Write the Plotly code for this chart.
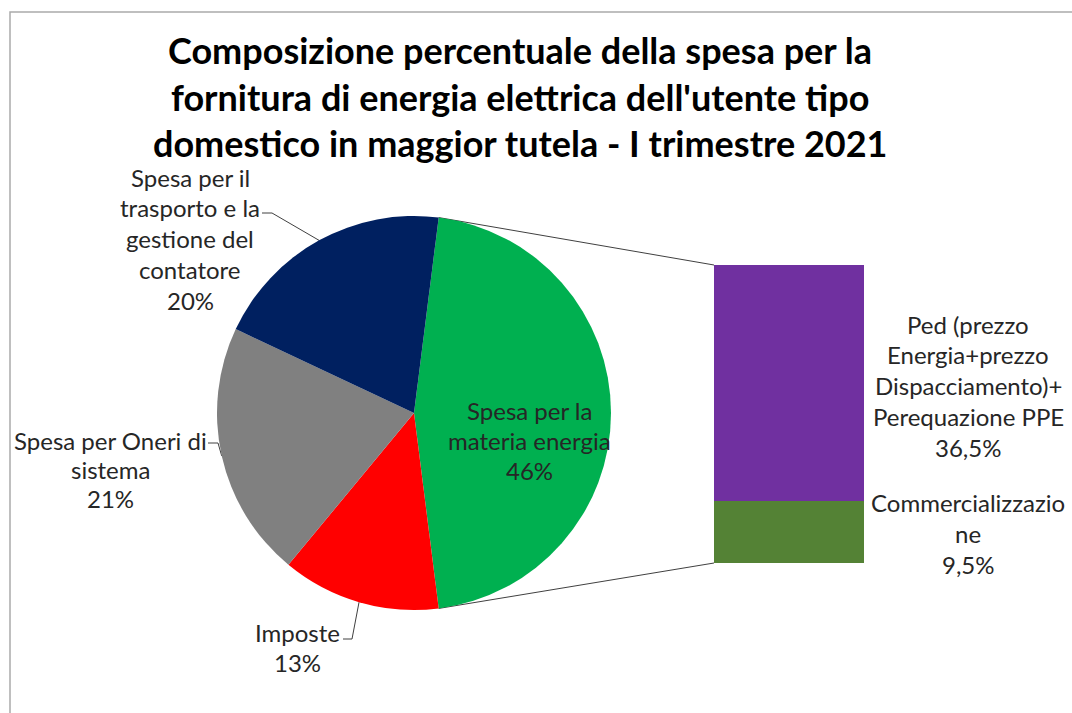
import math
import plotly.graph_objects as go

W, H = 1072, 713

# ---------------- data ----------------
title_lines = [
    "Composizione percentuale della spesa per la",
    "fornitura di energia elettrica dell'utente tipo",
    "domestico in maggior tutela - I trimestre 2021",
]

pie_labels = [
    "Spesa per la materia energia",
    "Imposte",
    "Spesa per Oneri di sistema",
    "Spesa per il trasporto e la gestione del contatore",
]
pie_values = [46, 13, 21, 20]
pie_colors = ["#00B050", "#FF0000", "#808080", "#002060"]
pie_label_lines = [
    ["Spesa per la", "materia energia", "46%"],
    ["Imposte", "13%"],
    ["Spesa per Oneri di", "sistema", "21%"],
    ["Spesa per il", "trasporto e la", "gestione del", "contatore", "20%"],
]

bar_labels = [
    "Commercializzazione",
    "Ped (prezzo Energia+prezzo Dispacciamento)+ Perequazione PPE",
]
bar_values = [9.5, 36.5]
bar_colors = ["#548235", "#7030A0"]
bar_label_lines = [
    ["Commercializzazio", "ne", "9,5%"],
    ["Ped (prezzo", "Energia+prezzo", "Dispacciamento)+", "Perequazione PPE", "36,5%"],
]

# ---------------- layout geometry (pixels) ----------------
CX, CY, R = 414, 413, 197
BAR_L, BAR_R, BAR_T, BAR_B = 714, 864, 265, 563
FONT = "Lato"
TXT = "#262626"

total = sum(pie_values)
rotation = 90 - pie_values[0] / total * 360 / 2  # split slice centred on 3 o'clock


def slice_bounds(i):
    start = rotation + sum(pie_values[:i]) / total * 360
    end = start + pie_values[i] / total * 360
    return start, end


def on_circle(angle_deg):
    a = math.radians(angle_deg)
    return CX + R * math.sin(a), CY - R * math.cos(a)


fig = go.Figure()

# pie
fig.add_trace(go.Pie(
    labels=pie_labels, values=pie_values, sort=False, direction="clockwise",
    rotation=rotation, marker=dict(colors=pie_colors, line=dict(width=0)),
    textinfo="none", hoverinfo="label+percent", showlegend=False,
    domain=dict(x=[(CX - R) / W, (CX + R) / W], y=[(H - CY - R) / H, (H - CY + R) / H]),
))

# stacked bar (second plot of the split slice)
for lab, val, col in zip(bar_labels, bar_values, bar_colors):
    fig.add_trace(go.Bar(
        x=[0], y=[val], width=[1], name=lab, marker=dict(color=col, line=dict(width=0)),
        showlegend=False, hoverinfo="name+y", xaxis="x", yaxis="y",
    ))

# connector lines between pie and bar
g0, g1 = slice_bounds(0)
p_top = on_circle(g0)
p_bot = on_circle(g1)
fig.add_trace(go.Scatter(
    x=[p_top[0], BAR_L, None, p_bot[0], BAR_L],
    y=[p_top[1], BAR_T, None, p_bot[1], BAR_B],
    mode="lines", line=dict(color="#404040", width=1), hoverinfo="skip",
    showlegend=False, xaxis="x2", yaxis="y2",
))

# leader lines: label elbow points (layout), end at slice mid-angle on the rim
elbows = {1: [(343, 639), (352, 639)], 2: [(208, 443), (218, 443)], 3: [(262, 213), (272, 213)]}
lx, ly = [], []
for i, pts in elbows.items():
    s, e = slice_bounds(i)
    rim = on_circle((s + e) / 2)
    for px, py in pts + [rim]:
        lx.append(px)
        ly.append(py)
    lx.append(None)
    ly.append(None)
fig.add_trace(go.Scatter(
    x=lx, y=ly, mode="lines", line=dict(color="#404040", width=1),
    hoverinfo="skip", showlegend=False, xaxis="x2", yaxis="y2",
))

annotations = []


def add_lines(lines, cx, y0, step, size, color=TXT, bold=False):
    for k, t in enumerate(lines):
        annotations.append(dict(
            x=cx / W, y=1 - (y0 + k * step) / H, xref="paper", yref="paper",
            text=f"<b>{t}</b>" if bold else t, showarrow=False,
            xanchor="center", yanchor="middle",
            font=dict(family=FONT, size=size, color=color),
        ))


add_lines(title_lines, 520, 50, 46.5, 36, color="#000000", bold=True)
label_pos = [(529, 410, 30), (297, 632, 30), (110, 440, 29), (190, 177, 30.75)]
for lines, (x, y, st) in zip(pie_label_lines, label_pos):
    add_lines(lines, x, y, st, 24)
bar_pos = [(968, 503, 30.5), (968, 324, 30.8)]
for lines, (x, y, st) in zip(bar_label_lines, bar_pos):
    add_lines(lines, x, y, st, 24)

fig.update_layout(
    width=W, height=H, margin=dict(l=0, r=0, t=0, b=0),
    paper_bgcolor="white", plot_bgcolor="rgba(0,0,0,0)",
    barmode="stack", bargap=0,
    xaxis=dict(domain=[BAR_L / W, BAR_R / W], range=[-0.5, 0.5], visible=False, fixedrange=True),
    yaxis=dict(domain=[(H - BAR_B) / H, (H - BAR_T) / H], range=[0, sum(bar_values)],
               visible=False, fixedrange=True),
    xaxis2=dict(domain=[0, 1], range=[0, W], visible=False, anchor="y2", fixedrange=True),
    yaxis2=dict(domain=[0, 1], range=[H, 0], visible=False, anchor="x2", fixedrange=True),
    annotations=annotations,
    shapes=[dict(type="rect", xref="paper", yref="paper",
                 x0=10 / W, x1=1.05, y0=-0.05, y1=1 - 12 / H,
                 line=dict(color="#ABABAB", width=1.5), fillcolor="rgba(0,0,0,0)", layer="below")],
)

fig.write_html("out.html")
